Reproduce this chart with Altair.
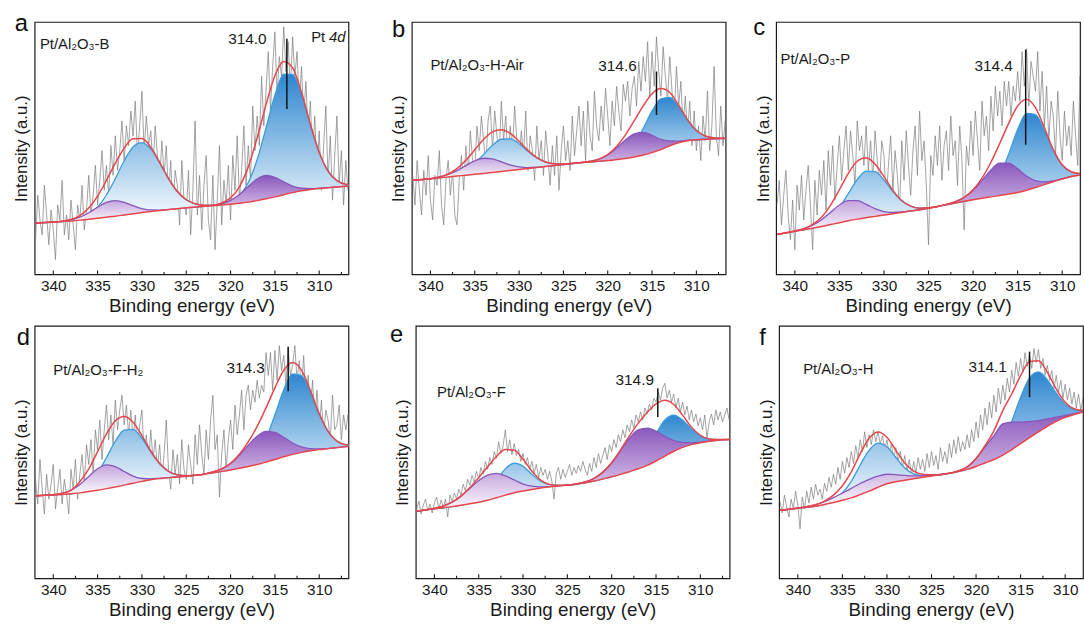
import altair as alt
import pandas as pd

FONT = "Liberation Sans"

# ---------------- data ----------------
E_FIT = [342, 341, 340, 339, 338, 337, 336, 335, 334, 333, 332, 331, 330, 329, 328, 327, 326, 325, 324,
         323, 322, 321, 320, 319, 318, 317, 316, 315, 314, 313, 312, 311, 310, 309, 308, 307, 306]

E_RAW = [342.0, 341.75, 341.5, 341.25, 341.0, 340.75, 340.5, 340.25, 340.0, 339.75, 339.5, 339.25,
         339.0, 338.75, 338.5, 338.25, 338.0, 337.75, 337.5, 337.25, 337.0, 336.75, 336.5, 336.25,
         336.0, 335.75, 335.5, 335.25, 335.0, 334.75, 334.5, 334.25, 334.0, 333.75, 333.5, 333.25,
         333.0, 332.75, 332.5, 332.25, 332.0, 331.75, 331.5, 331.25, 331.0, 330.75, 330.5, 330.25,
         330.0, 329.75, 329.5, 329.25, 329.0, 328.75, 328.5, 328.25, 328.0, 327.75, 327.5, 327.25,
         327.0, 326.75, 326.5, 326.25, 326.0, 325.75, 325.5, 325.25, 325.0, 324.75, 324.5, 324.25,
         324.0, 323.75, 323.5, 323.25, 323.0, 322.75, 322.5, 322.25, 322.0, 321.75, 321.5, 321.25,
         321.0, 320.75, 320.5, 320.25, 320.0, 319.75, 319.5, 319.25, 319.0, 318.75, 318.5, 318.25,
         318.0, 317.75, 317.5, 317.25, 317.0, 316.75, 316.5, 316.25, 316.0, 315.75, 315.5, 315.25,
         315.0, 314.75, 314.5, 314.25, 314.0, 313.75, 313.5, 313.25, 313.0, 312.75, 312.5, 312.25,
         312.0, 311.75, 311.5, 311.25, 311.0, 310.75, 310.5, 310.25, 310.0, 309.75, 309.5, 309.25,
         309.0, 308.75, 308.5, 308.25, 308.0, 307.75, 307.5, 307.25, 307.0, 306.75, 306.5, 306.25,
         306.0]

MAJOR_TICKS = [340, 335, 330, 325, 320, 315, 310]
MINOR_TICKS = [337.5, 332.5, 327.5, 322.5, 317.5, 312.5, 307.5]

LETTERS = ["a", "b", "c", "d", "e", "f"]
SAMPLES = ["Pt/Al₂O₃-B", "Pt/Al₂O₃-H-Air", "Pt/Al₂O₃-P", "Pt/Al₂O₃-F-H₂", "Pt/Al₂O₃-F", "Pt/Al₂O₃-H"]
PEAK_LABELS = ["314.0", "314.6", "314.4", "314.3", "314.9", "314.1"]
PEAK_MARK_E = [313.65, 314.5, 314.1, 313.5, 314.8, 314.0]
PEAK_MARK_LO = [167, 161, 131, 189, 163, 183]
PEAK_MARK_HI = [238, 205, 227, 234, 192, 229]

# raw spectra (intensity, arbitrary units), one row per eV
RAW_A = [35, 80, 55, 40, 90, 60, 30, 65, 45, 15, 70, 55, 95, 40, 60, 35,
         75, 50, 25, 70, 55, 90, 45, 65, 100, 60, 80, 110, 70, 95, 125, 85,
         110, 80, 130, 100, 140, 105, 125, 155, 115, 150, 130, 165, 140, 175, 120, 150,
         185, 125, 160, 130, 145, 110, 150, 120, 95, 135, 100, 130, 80, 115, 65, 105,
         90, 50, 115, 75, 60, 105, 40, 85, 155, 60, 100, 45, 90, 120, 55, 35,
         100, 25, 75, 130, 50, 95, 70, 110, 55, 120, 85, 140, 75, 105, 150, 90,
         130, 95, 170, 125, 160, 130, 200, 150, 185, 225, 165, 210, 245, 180, 220, 200,
         250, 205, 235, 185, 240, 200, 225, 170, 210, 160, 195, 140, 175, 120, 160, 100,
         145, 85, 130, 170, 95, 140, 75, 120, 160, 90, 125, 70, 115, 85, 135, 60,
         100]
RAW_B = [100, 70, 115, 85, 60, 105, 80, 120, 75, 55, 100, 90, 125, 70, 50, 95,
         115, 80, 105, 60, 50, 95, 120, 85, 130, 100, 145, 115, 105, 150, 125, 160,
         135, 110, 155, 170, 125, 165, 140, 120, 175, 135, 160, 115, 150, 125, 170, 135,
         110, 145, 120, 165, 105, 140, 125, 95, 150, 115, 135, 100, 145, 120, 90, 130,
         100, 140, 85, 125, 150, 115, 135, 105, 160, 120, 145, 170, 130, 165, 115, 175,
         140, 125, 185, 150, 135, 170, 145, 188, 160, 130, 175, 150, 190, 165, 145, 192,
         175, 195, 160, 188, 200, 170, 215, 185, 220, 195, 235, 180, 225, 190, 240, 205,
         180, 230, 200, 175, 220, 185, 160, 210, 170, 195, 150, 180, 140, 175, 130, 165,
         125, 150, 115, 160, 135, 185, 125, 150, 210, 140, 120, 170, 130, 155, 115, 145,
         125]
RAW_C = [70, 95, 50, 80, 105, 60, 35, 75, 25, 90, 65, 100, 55, 85, 110, 70,
         25, 95, 60, 105, 80, 115, 65, 125, 90, 130, 75, 110, 140, 95, 125, 150,
         105, 145, 120, 90, 155, 125, 140, 110, 150, 105, 135, 95, 145, 115, 90, 135,
         120, 75, 110, 140, 85, 125, 100, 65, 135, 95, 145, 110, 80, 125, 150, 100,
         165, 115, 135, 90, 30, 120, 100, 140, 110, 150, 95, 130, 145, 105, 160, 120,
         135, 90, 150, 115, 45, 130, 110, 155, 120, 165, 135, 105, 175, 140, 160, 125,
         180, 145, 190, 160, 185, 150, 195, 170, 195, 160, 190, 175, 205, 175, 225, 190,
         228, 170, 215, 200, 185, 225, 165, 205, 150, 190, 135, 175, 160, 120, 185, 140,
         115, 165, 130, 150, 120, 175, 140, 110, 200, 150, 135, 170, 125, 160, 135, 145,
         150]
RAW_D = [100, 75, 120, 90, 65, 105, 80, 95, 115, 70, 90, 110, 75, 100, 85, 65,
         110, 90, 120, 80, 105, 125, 95, 135, 115, 140, 105, 150, 130, 160, 120, 150,
         175, 140, 165, 135, 180, 150, 170, 185, 155, 175, 145, 170, 140, 165, 130, 155,
         170, 125, 145, 115, 150, 120, 140, 110, 135, 100, 125, 160, 110, 90, 130, 105,
         125, 95, 140, 110, 100, 135, 115, 95, 145, 115, 155, 125, 105, 150, 120, 160,
         185, 130, 145, 82, 125, 150, 110, 140, 160, 130, 175, 145, 165, 190, 150, 185,
         195, 170, 190, 178, 200, 182, 195, 188, 228, 205, 228, 190, 230, 200, 235, 210,
         225, 195, 232, 205, 215, 235, 200, 220, 190, 225, 180, 205, 170, 200, 160, 190,
         150, 180, 145, 170, 160, 140, 185, 150, 155, 175, 140, 165, 150, 165, 140, 135,
         130]
RAW_E = [70, 78, 65, 74, 80, 68, 75, 66, 76, 82, 70, 79, 72, 80, 62, 84,
         78, 86, 80, 90, 84, 95, 88, 100, 94, 104, 97, 108, 100, 112, 105, 118,
         110, 122, 115, 128, 121, 138, 126, 134, 150, 128, 140, 125, 136, 124, 130, 118,
         126, 115, 122, 110, 118, 106, 115, 102, 112, 104, 110, 100, 108, 98, 80, 106,
         112, 100, 110, 102, 108, 115, 104, 112, 106, 114, 108, 118, 110, 104, 116, 108,
         122, 112, 126, 116, 124, 132, 120, 135, 128, 140, 132, 145, 138, 150, 142, 155,
         148, 160, 152, 165, 158, 168, 160, 172, 166, 176, 170, 182, 178, 188, 180, 192,
         197, 182, 190, 178, 186, 172, 182, 168, 178, 165, 174, 160, 170, 158, 166, 154,
         162, 150, 165, 141, 158, 166, 155, 170, 160, 168, 158, 165, 172, 160, 166, 156,
         162]
RAW_F = [78, 66, 84, 72, 62, 80, 70, 88, 74, 50, 82, 70, 88, 76, 92, 80,
         95, 84, 90, 80, 96, 88, 102, 92, 105, 95, 112, 100, 118, 106, 122, 112,
         128, 116, 134, 122, 140, 128, 148, 132, 145, 135, 150, 138, 148, 136, 144, 130,
         140, 126, 136, 120, 132, 118, 128, 112, 124, 108, 120, 104, 118, 106, 122, 110,
         120, 108, 126, 112, 128, 114, 124, 110, 132, 118, 128, 116, 136, 122, 140, 126,
         143, 128, 138, 130, 145, 132, 150, 138, 158, 142, 165, 150, 172, 155, 178, 162,
         185, 168, 192, 176, 195, 180, 202, 188, 210, 196, 218, 204, 222, 208, 228, 214,
         226, 212, 232, 218, 231, 212, 222, 205, 215, 200, 210, 192, 205, 188, 200, 182,
         196, 180, 192, 176, 188, 172, 186, 170, 182, 168, 178, 160, 153, 176, 168, 180,
         172]

# Shirley-type backgrounds
BG_A = [51.7, 52.3, 52.8, 53.4, 54, 54.8, 55.8, 56.8, 57.8, 58.8, 60, 61.2, 62.4, 63.5, 64.5, 65.5, 66.4,
        67.2, 68, 68.7, 69.3, 70, 70.8, 71.8, 73, 74.5, 76.3, 78.3, 80.5, 82.6, 84.4, 85.8, 86.8, 87.6,
        88.3, 89, 89.6]
BG_B = [95, 95.8, 96.6, 97.5, 98.4, 99.3, 100.2, 101.1, 102, 103, 104, 105, 106, 107, 108, 109, 110, 111,
        112, 113, 113.6, 114.3, 115, 116, 117, 118.5, 120.5, 123, 126, 130, 133, 135, 136, 136.5, 137,
        137.2, 137.4]
BG_C = [40.3, 42, 43.6, 45, 46.6, 48.4, 50.3, 52.2, 54.1, 55.8, 57.3, 58.6, 59.9, 61.2, 62.6, 64, 65.2,
        66.8, 68.5, 70.3, 72.1, 73.8, 75.4, 76.9, 78.3, 79.7, 81.1, 82.8, 85, 87.7, 90.7, 93.6, 96.4,
        98.8, 100.5, 101.5, 102.2]
BG_D = [83.4, 83.8, 84.2, 84.7, 85.3, 86.3, 87.6, 89, 90.6, 92.3, 94.1, 96, 97.9, 99.6, 100.8, 101.7,
        102.4, 103.1, 104, 105.2, 106.6, 108, 109.5, 111.2, 113, 115, 117.4, 120, 122.8, 125.2, 127.2,
        128.8, 130, 131, 132, 133, 134]
BG_E = [67.6, 69, 70.2, 71.2, 72.4, 73.8, 75.3, 76.8, 78.8, 81.4, 84, 86.4, 88.2, 89.8, 91.2, 92.4, 93.3,
        94.2, 95, 96.4, 98.2, 100.3, 102.5, 105, 107.7, 110.6, 114, 118.5, 123.5, 128.3, 132.2, 135, 137,
        138.5, 139.5, 140.1, 140.5]
BG_F = [68.7, 69.7, 70.7, 71.7, 72.7, 74.5, 76.6, 78.8, 81.2, 84.5, 88, 92, 95.5, 97.5, 99, 100.5, 102,
        103.3, 104.6, 106, 107.8, 110, 113, 116.5, 120, 124.5, 130, 136, 142, 148, 153.5, 158.5, 162.5,
        165.5, 168, 169.5, 170.5]

# blue (Pt0) components, height above background
BLUE_A = [0, 0, 0, 0, 0.5, 1.7, 4.8, 11.2, 22.4, 37.9, 54.8, 67.5, 70.8, 63.3, 48.2, 31.3, 17.3, 8.2, 3.3,
          1.1, 0.3, 0.8, 2.6, 7.8, 19.8, 41.5, 71.6, 102.6, 121.7, 119.4, 97, 65.2, 36.3, 16.7, 6.4, 2, 0.5]
BLUE_B = [0, 0, 0, 0, 0.5, 2.1, 5.3, 11.1, 19.2, 27.4, 32.5, 31.9, 25.9, 17.4, 9.7, 4.5, 1.7, 0.5, 0,
          0, 0, 0, 0.4, 1.6, 5.1, 13.3, 26.8, 42.1, 51.4, 48.9, 36.2, 20.9, 9.4, 3.3, 0.9, 0.2, 0]
BLUE_C = [0, 0, 0, 0, 0.8, 2.6, 7, 15.5, 27.5, 39.9, 47.1, 45.1, 35.3, 22.4, 11.6, 4.9, 1.7, 0.5, 0,
          0, 0, 0, 0.5, 2.3, 7.8, 20.1, 40.5, 63.6, 77.6, 73.8, 54.7, 31.6, 14.1, 4.9, 1.3, 0.3, 0]
BLUE_D = [0, 0, 0, 0, 0, 2.8, 7.6, 17.2, 31.2, 46.2, 55.6, 54.5, 43.4, 28.1, 14.9, 6.4, 2.2, 0.6, 0,
          0, 0, 0, 0.3, 1.1, 3.4, 10, 23.8, 44.9, 67.7, 81.2, 77.6, 59, 35.8, 17.3, 6.6, 2, 0.6]
BLUE_E = [0, 0, 0, 0, 0, 0, 0.8, 3, 8.3, 17.2, 26.5, 30, 25, 15.2, 6.8, 2.2, 0.6, 0, 0,
          0, 0, 0, 0, 0.8, 2.3, 6.9, 15.8, 27.6, 36.4, 36.4, 27.6, 15.8, 6.9, 2.3, 0.6, 0, 0]
BLUE_F = [0, 0, 0, 0, 0, 0.6, 2.5, 7.4, 16.8, 29.9, 41.4, 44.6, 37.4, 24.5, 12.5, 4.9, 1.5, 0.4, 0,
          0, 0, 0, 0, 1.4, 5, 13.4, 28.5, 47, 60.4, 60.4, 47, 28.5, 13.4, 5, 1.4, 0.3, 0]

# purple (Pt2+) components, height above background
PURPLE_A = [0, 0, 0, 0.3, 1, 2.9, 6.4, 11, 14.9, 15.6, 12.8, 8.2, 4, 1.6, 0.5, 0, 0, 0, 0,
            0, 0.3, 1.3, 3.9, 8.9, 15.8, 21.9, 23.6, 19.8, 12.9, 6.6, 2.6, 0.8, 0.2, 0, 0, 0, 0]
PURPLE_B = [0, 0, 0, 0.9, 2.5, 5.5, 9.7, 13.6, 15.3, 13.6, 9.7, 5.5, 2.5, 0.9, 0.3, 0, 0, 0, 0,
            0, 0.6, 2.1, 5.7, 11.7, 18.8, 23.5, 22.9, 17.4, 10.3, 4.8, 1.7, 0.5, 0, 0, 0, 0, 0]
PURPLE_C = [0, 0, 0.3, 1.1, 3, 6.8, 12.4, 17.8, 20.4, 18.6, 13.5, 7.8, 3.6, 1.3, 0.4, 0, 0, 0, 0,
            0.4, 1.4, 4, 9.6, 18.1, 27.2, 32.7, 31.2, 23.8, 14.4, 7, 2.7, 0.8, 0.2, 0, 0, 0, 0]
PURPLE_D = [0, 0, 0.3, 1.2, 3.6, 8.4, 15.3, 21.7, 24, 20.6, 13.8, 7.2, 2.9, 0.9, 0.2, 0, 0, 0, 0,
            0, 0.9, 2.6, 6.4, 13, 21.4, 28.5, 31, 27.4, 19.7, 11.5, 5.5, 2.1, 0.7, 0.2, 0, 0, 0]
PURPLE_E = [0, 0, 0.5, 1.8, 4.5, 9.2, 15.6, 21.9, 25.5, 24.5, 19.5, 13, 7, 3.2, 1.2, 0.3, 0, 0, 0.3,
            0.9, 2.8, 6.9, 14.2, 24, 33.8, 39.3, 37.8, 30.1, 19.9, 10.9, 5, 1.9, 0.6, 0, 0, 0, 0]
PURPLE_F = [0, 0, 0.3, 0.7, 1.6, 2.9, 4.9, 7.3, 9.6, 11.3, 12, 11.3, 9.6, 7.3, 4.9, 2.9, 1.6, 0.8, 0.3,
            0.2, 0.7, 2.5, 8, 16, 24, 31.5, 27.7, 21.7, 16.3, 11.3, 7.5, 4.2, 2, 0.8, 0.3, 0, 0]

RAW = [RAW_A, RAW_B, RAW_C, RAW_D, RAW_E, RAW_F]
BG = [BG_A, BG_B, BG_C, BG_D, BG_E, BG_F]
BLUE = [BLUE_A, BLUE_B, BLUE_C, BLUE_D, BLUE_E, BLUE_F]
PURPLE = [PURPLE_A, PURPLE_B, PURPLE_C, PURPLE_D, PURPLE_E, PURPLE_F]

# ---------------- layout / annotation placement (data units) ----------------
NAME_POS = [(341.5, 233), (340.0, 211.5), (341.6, 218), (340.0, 210), (339.7, 188), (339.4, 211)]
PEAKLABEL_POS = [(318.1, 238), (318.9, 210), (317.7, 210), (318.3, 212), (317.4, 200), (318.7, 213)]
PANEL_W = [317, 317, 307]
X_END = [306.7, 306.7, 308.0]
LETTER_POS = [(-20, 9), (-20, 15), (-23, 13.5), (-18, 19), (-26, 16), (-20, 19)]
H = 255

GRAY = "#7b7b7b"
RED = "#e5464b"
BLUE_LINE = "#3a9cdc"
PURPLE_LINE = "#8756bb"
FRAME = "#1a1a1a"

BLUE_GRAD = alt.Gradient(
    gradient="linear",
    stops=[alt.GradientStop(color="#2f86cf", offset=0),
           alt.GradientStop(color="#94c3e8", offset=0.5),
           alt.GradientStop(color="#ffffff", offset=1)],
    x1=0, x2=0, y1=0, y2=1)
PURPLE_GRAD = alt.Gradient(
    gradient="linear",
    stops=[alt.GradientStop(color="#8a58bd", offset=0),
           alt.GradientStop(color="#c7a9de", offset=0.55),
           alt.GradientStop(color="#ffffff", offset=1)],
    x1=0, x2=0, y1=0, y2=1)


def panel(i, col):
    width = PANEL_W[col]
    xs = alt.Scale(domain=[342.1, X_END[col]], nice=False, zero=False)
    ys = alt.Scale(domain=[0, H], nice=False, zero=False)
    xaxis = alt.Axis(values=MAJOR_TICKS, format="d", title="Binding energy (eV)", ticks=False,
                     domain=False, grid=False, labelFontSize=15.5, titleFontSize=19, labelPadding=4,
                     titlePadding=3, labelFlush=False, labelOverlap=False)
    yaxis = alt.Axis(labels=False, ticks=False, domain=False, grid=False, title="Intensity (a.u.)",
                     titleFontSize=17, titlePadding=4)

    def X():
        return alt.X("E:Q", scale=xs, axis=xaxis)

    def Y(f):
        return alt.Y(f + ":Q", scale=ys, axis=yaxis)

    bg, bl, pu = BG[i], BLUE[i], PURPLE[i]
    raw_df = pd.DataFrame({"E": E_RAW, "v": RAW[i]})
    fit_df = pd.DataFrame({
        "E": E_FIT,
        "bg": bg,
        "blue": [b + c for b, c in zip(bg, bl)],
        "purple": [b + c for b, c in zip(bg, pu)],
        "env": [b + c + d for b, c, d in zip(bg, bl, pu)],
    })
    mark_df = pd.DataFrame({"E": [PEAK_MARK_E[i]], "lo": [PEAK_MARK_LO[i]], "hi": [PEAK_MARK_HI[i]]})
    name_df = pd.DataFrame({"E": [NAME_POS[i][0]], "v": [NAME_POS[i][1]], "t": [SAMPLES[i]]})
    plab_df = pd.DataFrame({"E": [PEAKLABEL_POS[i][0]], "v": [PEAKLABEL_POS[i][1]], "t": [PEAK_LABELS[i]]})

    layers = [
        alt.Chart(raw_df).mark_line(color=GRAY, strokeWidth=0.7, clip=True).encode(x=X(), y=Y("v")),
        alt.Chart(fit_df).mark_area(color=BLUE_GRAD, interpolate="monotone", clip=True).encode(
            x=X(), y=Y("blue"), y2=alt.Y2("bg:Q")),
        alt.Chart(fit_df).mark_line(color=BLUE_LINE, strokeWidth=1.3, interpolate="monotone", clip=True).encode(
            x=X(), y=Y("blue")),
        alt.Chart(fit_df).mark_area(color=PURPLE_GRAD, interpolate="monotone", clip=True).encode(
            x=X(), y=Y("purple"), y2=alt.Y2("bg:Q")),
        alt.Chart(fit_df).mark_line(color=PURPLE_LINE, strokeWidth=1.3, interpolate="monotone", clip=True).encode(
            x=X(), y=Y("purple")),
        alt.Chart(fit_df).mark_line(color=RED, strokeWidth=1.5, interpolate="monotone", clip=True).encode(
            x=X(), y=Y("bg")),
        alt.Chart(fit_df).mark_line(color=RED, strokeWidth=1.5, interpolate="monotone", clip=True).encode(
            x=X(), y=Y("env")),
        alt.Chart(mark_df).mark_rule(color="#111111", strokeWidth=1.5).encode(
            x=X(), y=Y("lo"), y2=alt.Y2("hi:Q")),
        alt.Chart(name_df).mark_text(align="left", baseline="middle", fontSize=15, font=FONT,
                                     color="#1a1a1a").encode(x=X(), y=Y("v"), text="t:N"),
        alt.Chart(plab_df).mark_text(align="center", baseline="middle", fontSize=15.5, font=FONT,
                                     color="#1a1a1a").encode(x=X(), y=Y("v"), text="t:N"),
        alt.Chart(pd.DataFrame({"E": MAJOR_TICKS})).mark_rule(color=FRAME, strokeWidth=1.1, clip=True).encode(
            x=X(), y=alt.value(H), y2=alt.value(H - 4)),
        alt.Chart(pd.DataFrame({"E": MINOR_TICKS})).mark_rule(color=FRAME, strokeWidth=1.1, clip=True).encode(
            x=X(), y=alt.value(H), y2=alt.value(H - 2.5)),
        alt.Chart(pd.DataFrame({"t": [LETTERS[i]]})).mark_text(
            align="left", baseline="alphabetic", fontSize=24, font=FONT, color="#111111").encode(
            x=alt.value(LETTER_POS[i][0]), y=alt.value(LETTER_POS[i][1]), text="t:N"),
    ]
    if i == 0:
        pt_df = pd.DataFrame({"E": [310.9], "v": [240], "t": ["Pt"]})
        d_df = pd.DataFrame({"E": [308.9], "v": [240], "t": ["4d"]})
        layers.append(alt.Chart(pt_df).mark_text(align="left", baseline="middle", fontSize=15, font=FONT,
                                                 color="#1a1a1a").encode(x=X(), y=Y("v"), text="t:N"))
        layers.append(alt.Chart(d_df).mark_text(align="left", baseline="middle", fontSize=15, font=FONT,
                                                fontStyle="italic", color="#1a1a1a").encode(
            x=X(), y=Y("v"), text="t:N"))
    return alt.layer(*layers).properties(width=width, height=H)


def row(start):
    left = alt.hconcat(panel(start, 0), panel(start + 1, 1), spacing=40)
    return alt.hconcat(left, panel(start + 2, 2), spacing=26)


chart = alt.vconcat(row(0), row(3), spacing=5).properties(
    padding={"left": 12, "top": 8, "right": 0, "bottom": 0}
).configure_view(stroke=FRAME, strokeWidth=1.2).configure_axis(
    labelFont=FONT, titleFont=FONT, labelColor="#1a1a1a", titleColor="#1a1a1a", titleFontWeight="normal"
)

chart.save("out.html", embed_options={"renderer": "svg", "actions": False})
